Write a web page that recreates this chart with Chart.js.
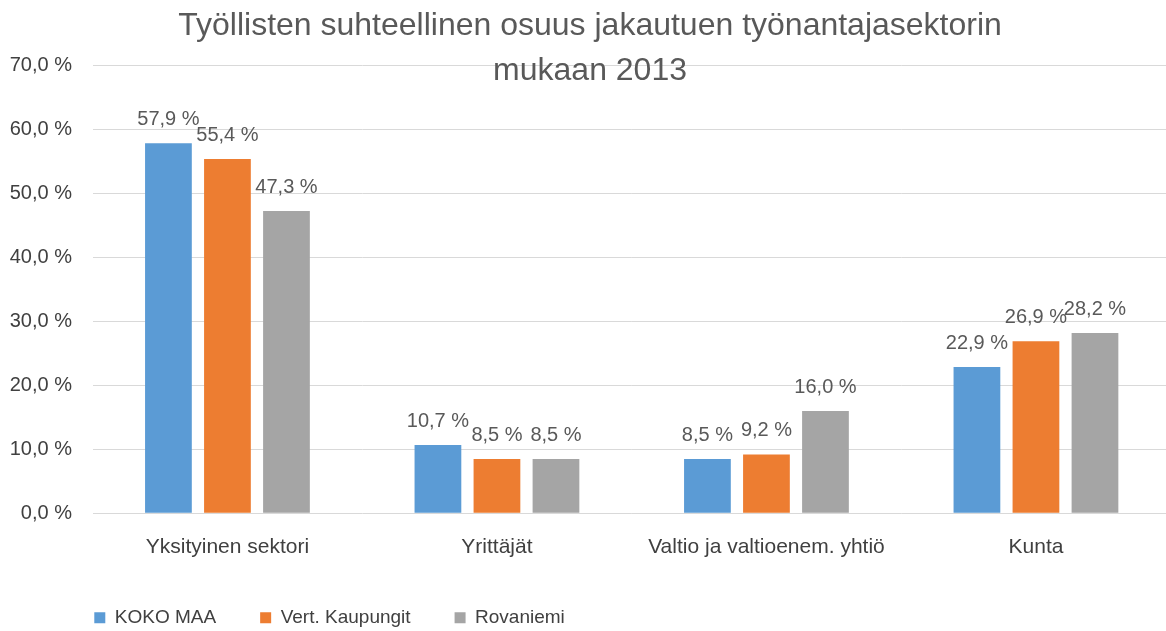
<!DOCTYPE html>
<html>
<head>
<meta charset="utf-8">
<script src="https://cdn.jsdelivr.net/npm/chart.js@4"></script>
<style>
  html, body { margin: 0; padding: 0; background: #ffffff; overflow: hidden; }
  #wrap { width: 1166px; height: 631px; overflow: hidden; }
</style>
</head>
<body>
<div id="wrap"><canvas id="c" width="1180" height="631"></canvas></div>
<script>
const titleLines = ['Työllisten suhteellinen osuus jakautuen työnantajasektorin', 'mukaan 2013'];
const categories = ['Yksityinen sektori', 'Yrittäjät', 'Valtio ja valtioenem. yhtiö', 'Kunta'];
const seriesNames = ['KOKO MAA', 'Vert. Kaupungit', 'Rovaniemi'];
const kokoMaa = [57.9, 10.7, 8.5, 22.9];
const vertKaupungit = [55.4, 8.5, 9.2, 26.9];
const rovaniemi = [47.3, 8.5, 16.0, 28.2];
const seriesColors = ['#5B9BD5', '#ED7D31', '#A5A5A5'];
const yTicks = [0, 10, 20, 30, 40, 50, 60, 70];

const FONT = "'Liberation Sans', Arial, sans-serif";
const fmt = v => v.toFixed(1).replace('.', ',') + ' %';

const dataLabels = {
  id: 'dataLabels',
  afterDatasetsDraw(chart) {
    const ctx = chart.ctx;
    ctx.save();
    ctx.font = '20px ' + FONT;
    ctx.fillStyle = '#595959';
    ctx.textAlign = 'center';
    ctx.textBaseline = 'alphabetic';
    chart.data.datasets.forEach((ds, i) => {
      chart.getDatasetMeta(i).data.forEach((el, j) => {
        ctx.fillText(fmt(ds.data[j]), el.x, el.y - 18);
      });
    });
    ctx.restore();
  }
};

const placeBoxes = {
  id: 'placeBoxes',
  afterLayout(chart) {
    const t = chart.titleBlock;
    if (t) { t.left += 4.7; t.right += 4.7; }
    const lg = chart.legend;
    if (lg) {
      const dx = 50.3;
      lg.left += dx; lg.right += dx;
      const top = 564.2;
      const h = lg.height;
      lg.top = top; lg.bottom = top + h;
    }
  }
};

const datasets = [kokoMaa, vertKaupungit, rovaniemi].map((d, i) => ({
  label: seriesNames[i],
  data: d,
  backgroundColor: seriesColors[i],
  borderWidth: 0,
  categoryPercentage: 0.657,
  barPercentage: 0.792
}));

new Chart(document.getElementById('c'), {
  type: 'bar',
  data: { labels: categories, datasets },
  plugins: [dataLabels, placeBoxes],
  options: {
    responsive: false,
    animation: false,
    devicePixelRatio: 1,
    layout: { padding: { left: 0, right: 9.3, top: 0, bottom: 0 } },
    plugins: {
      title: {
        display: true,
        text: titleLines,
        color: '#595959',
        font: { family: FONT, size: 32, weight: 'normal', lineHeight: 1.42 },
        padding: { top: 3.5, bottom: -28.6 }
      },
      legend: {
        display: true,
        position: 'bottom',
        align: 'start',
        labels: {
          boxWidth: 11,
          boxHeight: 11,
          padding: 44,
          color: '#404040',
          font: { family: FONT, size: 19 }
        }
      },
      tooltip: { enabled: false }
    },
    scales: {
      x: {
        grid: { display: false, drawTicks: false },
        border: { display: false },
        ticks: {
          color: '#404040',
          font: { family: FONT, size: 21 },
          padding: 21,
          maxRotation: 0,
          autoSkip: false
        },
        afterFit(s) {
          const lh = (s.chart.legend && s.chart.legend.height) || 73;
          s.height = 631 - 513.3 - lh;
        }
      },
      y: {
        min: 0,
        max: 70,
        afterBuildTicks(s) { s.ticks = yTicks.map(v => ({ value: v })); },
        grid: { color: '#D9D9D9', lineWidth: 1, drawTicks: false },
        border: { display: false },
        ticks: {
          color: '#404040',
          font: { family: FONT, size: 20 },
          padding: 20.7,
          callback: v => fmt(v)
        },
        afterFit(s) { s.width = 92.7; }
      }
    }
  }
});
</script>
</body>
</html>
